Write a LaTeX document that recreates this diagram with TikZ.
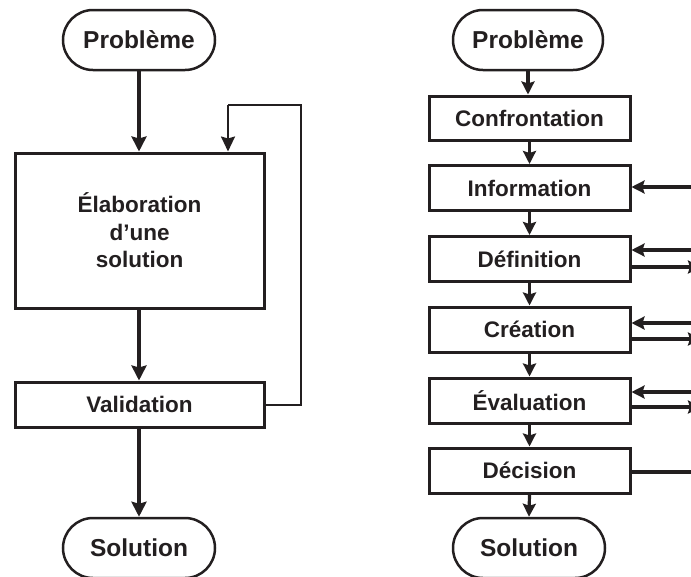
\documentclass[tikz,border=0pt]{standalone}
\usepackage{fontspec}
\setmainfont{Liberation Sans}
\usetikzlibrary{arrows.meta,shapes.misc}
\definecolor{ink}{HTML}{231F20}
\begin{document}
\begin{tikzpicture}[x=1pt,y=-1pt,
  every node/.style={text=ink,font=\bfseries\fontsize{22.5}{27.5}\selectfont},
  stadium/.style={draw=ink,line width=2.5pt,rounded rectangle,inner sep=0pt,minimum width=152pt,minimum height=60pt,font=\bfseries\fontsize{24.5}{29}\selectfont},
  box/.style={draw=ink,line width=3pt,rectangle,inner sep=0pt,align=center},
  arr/.style={draw=ink,line width=3.2pt,-{Stealth[length=15pt,width=15pt,inset=2pt]}},
  arrs/.style={draw=ink,line width=3.2pt,-{Stealth[length=13pt,width=13pt,inset=2pt]}},
  thin/.style={draw=ink,line width=2pt},
]
\useasboundingbox (0,0) rectangle (691,576);
\clip (0,0) rectangle (691,576);
% left chart
\node[stadium] (p1) at (139,40) {Problème};
\node[box,minimum width=249pt,minimum height=155pt] (elab) at (139.5,230.5) {Élaboration\\d’une\\solution};
\node[box,minimum width=249pt,minimum height=45pt] (val) at (139.5,404.5) {Validation};
\node[stadium] (s1) at (139,548) {Solution};
\draw[arr] (p1.south) -- (p1.south |- elab.north);
\draw[arr] (elab.south -| p1.south) -- (p1.south |- val.north);
\draw[arr] (val.south -| p1.south) -- (s1.north);
\coordinate (fbr) at (301,105);
\coordinate (fbl) at (228,105);
\draw[thin] (val.east) -| (fbr) -- (fbl);
\draw[thin,-{Stealth[length=15pt,width=14pt,inset=2pt]}] (fbl) -- (fbl |- elab.north);
% right chart
\node[stadium,minimum width=150pt] (p2) at (528,40) {Problème};
\node[box,minimum width=201pt,minimum height=44pt] (conf) at (529.5,118) {Confrontation};
\node[box,minimum width=201pt,minimum height=45pt] (info) at (529.5,188) {Information};
\node[box,minimum width=201pt,minimum height=45pt] (def) at (529.5,259) {Définition};
\node[box,minimum width=201pt,minimum height=45pt] (cre) at (529.5,329.5) {Création};
\node[box,minimum width=201pt,minimum height=45pt] (eva) at (529.5,400.5) {Évaluation};
\node[box,minimum width=201pt,minimum height=45pt] (dec) at (529.5,470.5) {Décision};
\node[stadium] (s2) at (529,548) {Solution};
\draw[arrs] (p2.south) -- (p2.south |- conf.north);
\draw[arrs] (conf.south) -- (info.north);
\draw[arrs] (info.south) -- (def.north);
\draw[arrs] (def.south) -- (cre.north);
\draw[arrs] (cre.south) -- (eva.north);
\draw[arrs] (eva.south) -- (dec.north);
\draw[arrs] (dec.south) -- (s2.north);
% side arrows
\coordinate (iin) at (695,187);
\coordinate (din) at (695,250);
\coordinate (dout) at (701,267);
\coordinate (cin) at (695,323);
\coordinate (cout) at (701,339);
\coordinate (ein) at (695,392);
\coordinate (eout) at (701,407);
\coordinate (dcr) at (695,472);
\draw[arrs] (iin) -- (iin -| info.east);
\draw[arrs] (din) -- (din -| def.east);
\draw[arrs] (dout -| def.east) -- (dout);
\draw[arrs] (cin) -- (cin -| cre.east);
\draw[arrs] (cout -| cre.east) -- (cout);
\draw[arrs] (ein) -- (ein -| eva.east);
\draw[arrs] (eout -| eva.east) -- (eout);
\draw[draw=ink,line width=3.2pt] (dcr -| dec.east) -- (dcr);
\end{tikzpicture}
\end{document}
